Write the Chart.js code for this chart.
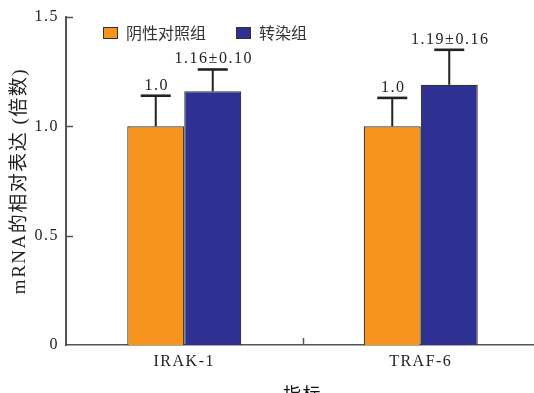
<!DOCTYPE html>
<html>
<head>
<meta charset="utf-8">
<script src="https://cdn.jsdelivr.net/npm/chart.js@4"></script>
<style>
html,body{margin:0;padding:0;background:#fff;overflow:hidden;}
#wrap{width:534px;height:393px;overflow:hidden;position:relative;}
canvas{display:block;}
</style>
</head>
<body>
<div id="wrap"><canvas id="c" width="540" height="405"></canvas></div>
<script>
const categories = ['IRAK-1', 'TRAF-6'];
const seriesNames = ['阴性对照组', '转染组'];
const controlValues = [1.0, 1.0];
const controlErrors = [0.14, 0.13];
const controlLabels = ['1.0', '1.0'];
const transfectValues = [1.16, 1.19];
const transfectErrors = [0.10, 0.16];
const transfectLabels = ['1.16±0.10', '1.19±0.16'];
const yTicks = [0, 0.5, 1.0, 1.5];

const SERIF = '"Liberation Serif", "Times New Roman", serif';
const CJK = '"Noto Sans CJK SC", sans-serif';
const SPACING = '1.5px';

const spacingPlugin = {
  id: 'spacing',
  beforeInit(chart) { chart.ctx.letterSpacing = SPACING; },
  beforeUpdate(chart) { chart.ctx.letterSpacing = SPACING; },
  beforeLayout(chart) { chart.ctx.letterSpacing = SPACING; },
  beforeDraw(chart) { chart.ctx.letterSpacing = SPACING; }
};

const extrasPlugin = {
  id: 'extras',
  afterDatasetsDraw(chart) {
    const ctx = chart.ctx;
    const y = chart.scales.y;
    const x = chart.scales.x;
    const area = chart.chartArea;
    ctx.save();
    // error bars + labels
    chart.data.datasets.forEach((ds, di) => {
      const meta = chart.getDatasetMeta(di);
      meta.data.forEach((bar, i) => {
        const v = ds.data[i];
        const top = y.getPixelForValue(v + ds.errors[i]);
        const base = y.getPixelForValue(v);
        ctx.strokeStyle = '#222';
        ctx.lineWidth = 2;
        ctx.beginPath();
        ctx.moveTo(bar.x, base);
        ctx.lineTo(bar.x, top);
        ctx.stroke();
        ctx.lineWidth = 2.6;
        ctx.beginPath();
        ctx.moveTo(bar.x - 15, top);
        ctx.lineTo(bar.x + 15, top);
        ctx.stroke();
        ctx.letterSpacing = SPACING;
        ctx.font = '16px ' + SERIF;
        ctx.fillStyle = '#222';
        ctx.textAlign = 'center';
        ctx.textBaseline = 'alphabetic';
        ctx.fillText(ds.valueLabels[i], bar.x + 1, top - 6);
      });
    });
    // inward ticks on y axis
    ctx.strokeStyle = '#555';
    ctx.lineWidth = 1.5;
    y.ticks.forEach(t => {
      if (t.value === 0) return;
      const py = Math.round(y.getPixelForValue(t.value)) + 0.5;
      ctx.beginPath();
      ctx.moveTo(area.left, py);
      ctx.lineTo(area.left + 7, py);
      ctx.stroke();
    });
    // inward tick between categories
    const mid = (x.getPixelForValue(0) + x.getPixelForValue(1)) / 2;
    ctx.beginPath();
    ctx.moveTo(Math.round(mid) + 0.5, area.bottom);
    ctx.lineTo(Math.round(mid) + 0.5, area.bottom - 7);
    ctx.stroke();
    // legend
    ctx.letterSpacing = '0px';
    ctx.font = '16px ' + CJK;
    ctx.textAlign = 'left';
    ctx.textBaseline = 'middle';
    const legendX = [103, 236];
    chart.data.datasets.forEach((ds, di) => {
      const lx = legendX[di];
      ctx.fillStyle = ds.backgroundColor;
      ctx.fillRect(lx, 27, 15, 12);
      ctx.strokeStyle = '#333';
      ctx.lineWidth = 1;
      ctx.strokeRect(lx + 0.5, 27.5, 14, 11);
      ctx.fillStyle = '#333';
      ctx.fillText(ds.label, lx + 23, 33);
    });
    ctx.restore();
  }
};

new Chart(document.getElementById('c'), {
  type: 'bar',
  data: {
    labels: categories,
    datasets: [
      {
        label: seriesNames[0],
        data: controlValues,
        errors: controlErrors,
        valueLabels: controlLabels,
        backgroundColor: '#F7941E',
        borderColor: '#333',
        borderWidth: 1.2
      },
      {
        label: seriesNames[1],
        data: transfectValues,
        errors: transfectErrors,
        valueLabels: transfectLabels,
        backgroundColor: '#2E3192',
        borderColor: '#333',
        borderWidth: 1.2
      }
    ]
  },
  options: {
    responsive: false,
    animation: false,
    devicePixelRatio: 1,
    categoryPercentage: 0.482,
    barPercentage: 1.0,
    layout: { padding: { top: 17, right: 1, left: 0, bottom: 0 } },
    plugins: { legend: { display: false }, tooltip: { enabled: false } },
    scales: {
      y: {
        min: 0,
        max: 1.5,
        afterFit(s) { s.width = 66; },
        afterBuildTicks(s) { s.ticks = yTicks.map(v => ({ value: v })); },
        ticks: {
          stepSize: 0.5,
          padding: 7,
          color: '#222',
          font: { family: SERIF, size: 16 },
          callback: v => (v === 0 ? '0' : v.toFixed(1))
        },
        grid: { display: false, drawTicks: false },
        border: { display: true, color: '#555', width: 2 },
        title: {
          display: true,
          text: 'mRNA的相对表达 (倍数)',
          color: '#222',
          font: { family: SERIF + ', ' + CJK, size: 19 },
          padding: { top: 9, bottom: 0 }
        }
      },
      x: {
        afterFit(s) { s.height = 60; },
        ticks: {
          padding: 7,
          color: '#222',
          font: { family: SERIF, size: 16 }
        },
        grid: { display: false, drawTicks: false },
        border: { display: true, color: '#555', width: 1.5 },
        title: {
          display: true,
          text: '指标',
          color: '#111',
          font: { family: CJK, size: 18 },
          padding: { top: 0, bottom: 0 }
        }
      }
    }
  },
  plugins: [spacingPlugin, extrasPlugin]
});
</script>
</body>
</html>
